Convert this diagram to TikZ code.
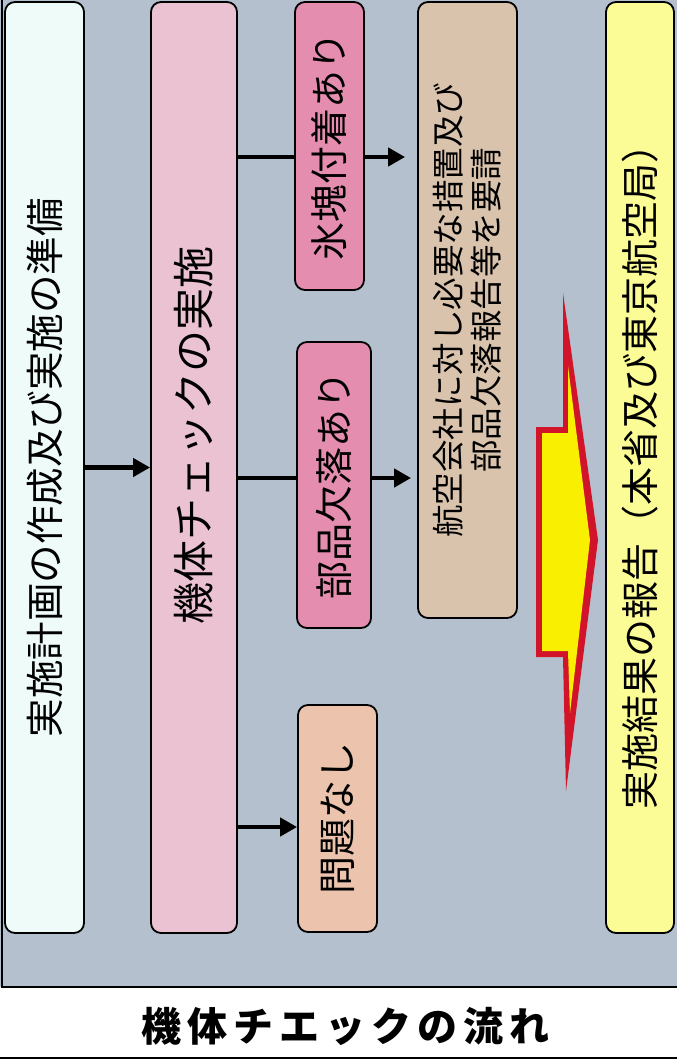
\documentclass[tikz,border=0pt]{standalone}
\usepackage{fontspec}
\newfontfamily\cjk{Noto Sans CJK JP}
\usetikzlibrary{arrows.meta}
\definecolor{bg}{HTML}{B5C0CE}
\definecolor{cyanbox}{HTML}{EEFBF8}
\definecolor{pinkbox}{HTML}{EBC2D2}
\definecolor{rosebox}{HTML}{E58DAE}
\definecolor{peachbox}{HTML}{ECC4AD}
\definecolor{tanbox}{HTML}{D9C3AD}
\definecolor{yelbox}{HTML}{FCFC97}
\definecolor{arrred}{HTML}{D2142A}
\definecolor{arryel}{HTML}{F8F000}
\begin{document}
\begin{tikzpicture}[x=1pt,y=-1pt,
  box/.style={draw=black, line width=1.8pt, rounded corners=10pt, rotate=90,
    inner sep=0pt, font=\cjk\fontsize{38}{44}\selectfont, align=center},
  conn/.style={line width=4.5pt, black},
  arr/.style={conn, -{Triangle[length=17pt,width=18pt]}}]
\useasboundingbox (0,0) rectangle (677,1061);
\fill[white] (0,0) rectangle (677,1061);
\fill[bg] (0,0) rectangle (677,987);
\draw[line width=1.6pt] (2,0) -- (2,987) -- (677,987);
\draw[line width=2pt] (0,1058) -- (677,1058);

% boxes
\node[box, fill=cyanbox, minimum width=931pt, minimum height=79pt,
  font=\cjk\fontsize{38.5}{44}\selectfont] (b1) at (44.5,467.5) {実施計画の作成及び実施の準備};
\node[box, fill=pinkbox, minimum width=931pt, minimum height=86pt,
  font=\cjk\fontsize{42}{48}\selectfont] (b2) at (194,467.5) {\hspace*{65pt}機体チェックの実施};
\node[box, fill=rosebox, minimum width=288pt, minimum height=69pt] (ice) at (329.5,146) {氷塊付着あり};
\node[box, fill=rosebox, minimum width=286pt, minimum height=74pt] (buhin) at (334,485) {部品欠落あり};
\node[box, fill=peachbox, minimum width=227pt, minimum height=79pt] (mondai) at (337.5,818.5) {問題なし};
\node[box, fill=tanbox, minimum width=616pt, minimum height=99pt,
  font=\cjk\fontsize{32.5}{38}\selectfont] (tan) at (467.5,310) {航空会社に対し必要な措置及び\\部品欠落報告等を要請};
\node[box, fill=yelbox, minimum width=931pt, minimum height=68pt] (rep) at (640,467.5) {実施結果の報告（本省及び東京航空局）};

% connector rows
\coordinate (r1) at (0,157);
\coordinate (r2) at (0,478);
\coordinate (r3) at (0,827);

\draw[arr] (b1.south) -- (b2.north);
\draw[conn] (b2.south |- r1) -- (ice.north |- r1);
\draw[arr, shorten >=12pt] (ice.south |- r1) -- (tan.north |- r1);
\draw[conn] (b2.south |- r2) -- (buhin.north |- r2);
\draw[arr, shorten >=6pt] (buhin.south |- r2) -- (tan.north |- r2);
\draw[arr] (b2.south |- r3) -- (mondai.north |- r3);

% big arrow
\fill[arrred] (563,293) -- (598,540) -- (566,791) -- (563,657) -- (536,657) -- (536,427) -- (563,427) -- cycle;
\fill[arryel] (568,366) -- (590,540) -- (570,713) -- (568,651) -- (542,651) -- (542,433) -- (568,433) -- cycle;

% title strip
\node[font=\cjk\bfseries\fontsize{40}{46}\selectfont, inner sep=0pt] (title) at (345,1026)
  {機\hspace{6pt}体\hspace{6pt}チ\hspace{6pt}エ\hspace{6pt}ッ\hspace{6pt}ク\hspace{6pt}の\hspace{6pt}流\hspace{6pt}れ};
\end{tikzpicture}
\end{document}
